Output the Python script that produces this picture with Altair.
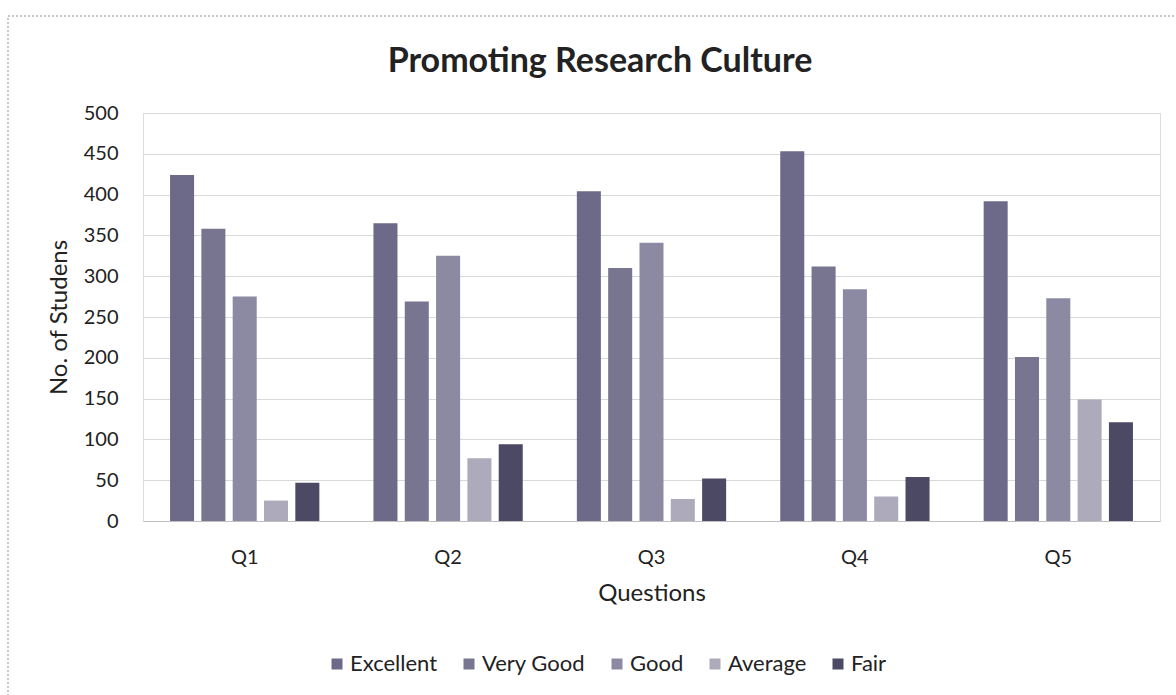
import altair as alt
import pandas as pd

title_text = ["Promoting Research Culture"]
questions = ["Q1", "Q2", "Q3", "Q4", "Q5"]
ratings = ["Excellent", "Very Good", "Good", "Average", "Fair"]
excellent = [424, 365, 404, 453, 392]
very_good = [358, 269, 310, 312, 201]
good = [275, 325, 341, 284, 273]
average = [25, 77, 27, 30, 149]
fair = [47, 94, 52, 54, 121]
colors = ["#6c6a88", "#777590", "#8c8aa3", "#acaabb", "#4b4964"]
y_ticks = [0, 50, 100, 150, 200, 250, 300, 350, 400, 450, 500]

series = [excellent, very_good, good, average, fair]
rows = []
for r, vals in zip(ratings, series):
    for q, v in zip(questions, vals):
        rows.append({"Question": q, "Rating": r, "Count": v})
df = pd.DataFrame(rows)

FONT = "Lato"
W, H = 1017, 408
LEFT, TOP = 143, 113

bars = alt.Chart(df).mark_bar().encode(
    x=alt.X("Question:N", sort=questions,
            scale=alt.Scale(paddingInner=0.266, paddingOuter=0.133),
            axis=alt.Axis(title="Questions", labelAngle=0, ticks=False,
                          labelPadding=26, titlePadding=14, domainColor="#bfbfbf",
                          labelFontSize=20, titleFontSize=24, labelColor="#222",
                          titleColor="#222", titleFontWeight="normal",
                          labelFont=FONT, titleFont=FONT)),
    xOffset=alt.XOffset("Rating:N", sort=ratings,
                        scale=alt.Scale(paddingInner=0.233, paddingOuter=0)),
    y=alt.Y("Count:Q", scale=alt.Scale(domain=[0, 500], nice=False),
            axis=alt.Axis(title="No. of Studens", values=y_ticks, ticks=False,
                          domain=False, gridColor="#d9d9d9", labelPadding=25,
                          titlePadding=12, labelFontSize=20, titleFontSize=24,
                          labelColor="#222", titleColor="#222",
                          titleFontWeight="normal", labelFont=FONT, titleFont=FONT)),
    color=alt.Color("Rating:N", sort=ratings,
                    scale=alt.Scale(domain=ratings, range=colors),
                    legend=alt.Legend(title=None, orient="none", direction="horizontal",
                                      legendX=183, legendY=540, symbolType="square",
                                      symbolSize=121, labelFontSize=22, labelFont=FONT,
                                      labelColor="#222", columnPadding=20, labelOffset=2,
                                      symbolStrokeWidth=0)),
)

frame = alt.Chart(pd.DataFrame({"a": [0]})).mark_rect(
    fill=None, stroke="#b8b8b8", strokeDash=[2, 2], strokeWidth=1.5, clip=False
).encode(
    x=alt.value(8 - LEFT), x2=alt.value(1200 - LEFT),
    y=alt.value(16 - TOP), y2=alt.value(720 - TOP),
)

title = alt.Chart(pd.DataFrame({"t": title_text})).mark_text(
    font=FONT, fontSize=34, fontWeight="bold", color="#222",
    align="center", baseline="alphabetic", clip=False
).encode(
    text="t:N", x=alt.value(600 - LEFT), y=alt.value(72 - TOP),
)

chart = alt.layer(frame, bars, title).properties(
    width=W, height=H,
    autosize=alt.AutoSizeParams(type="none"),
    padding={"left": LEFT, "top": TOP, "right": 1176 - LEFT - W, "bottom": 695 - TOP - H},
).configure_view(stroke=None).configure(background="white")

chart.save("out.html", embed_options={"renderer": "svg", "actions": False})
